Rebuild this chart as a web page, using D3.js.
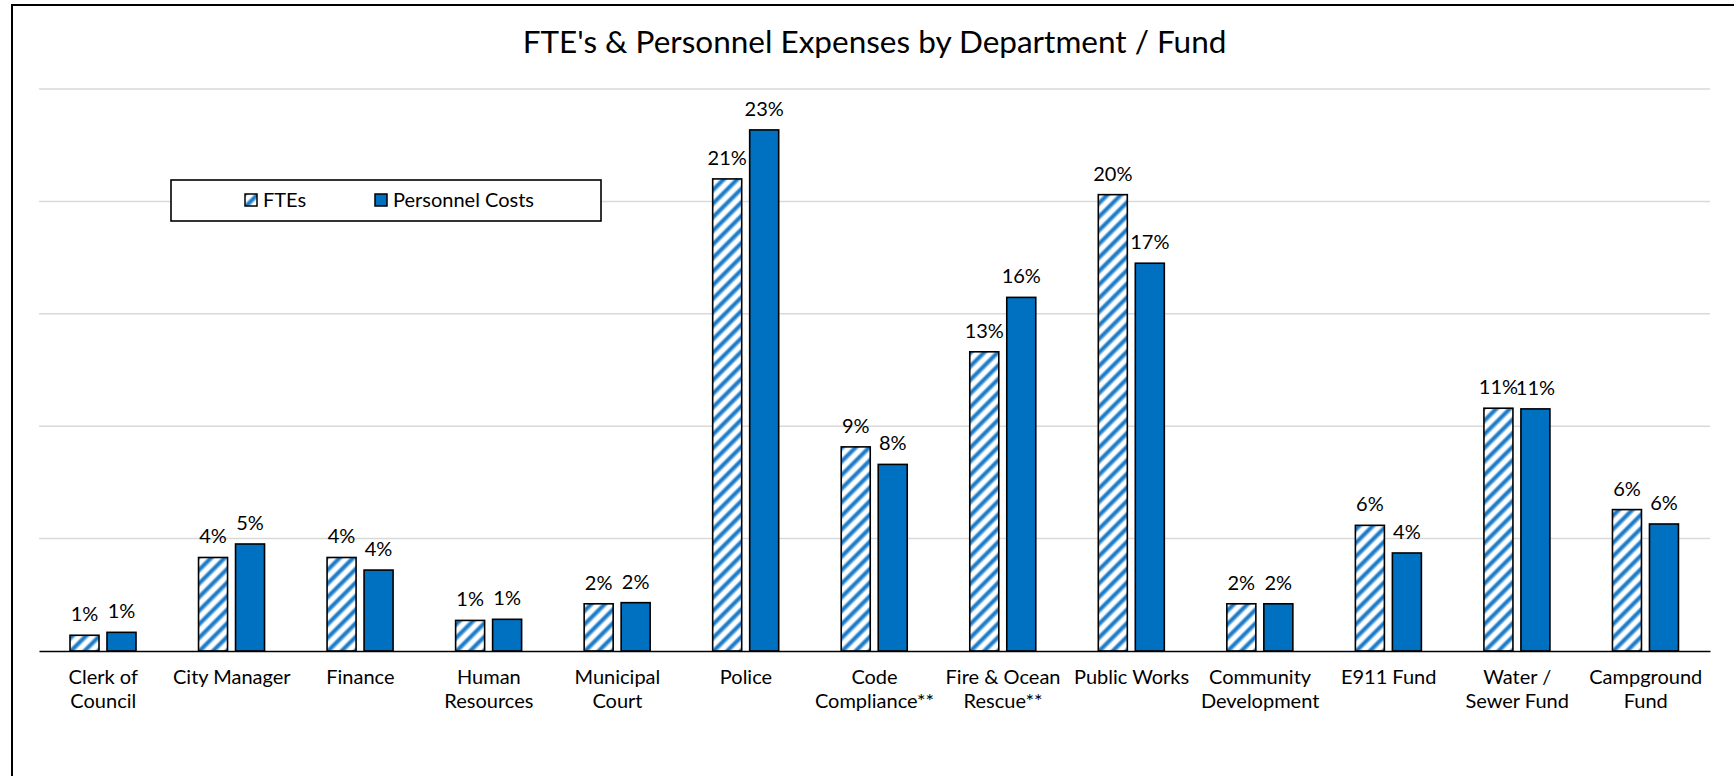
<!DOCTYPE html>
<html>
<head>
<meta charset="utf-8">
<script src="https://cdn.jsdelivr.net/npm/d3@7"></script>
<style>
  html, body { margin: 0; padding: 0; background: #fff; }
  svg { display: block; }
  text { font-family: Lato, "Open Sans", sans-serif; fill: #000; }
</style>
</head>
<body>
<svg id="chart" width="1734" height="776"></svg>
<script>
// ---- data ----
const categories = [
  "Clerk of\nCouncil", "City Manager", "Finance", "Human\nResources",
  "Municipal\nCourt", "Police", "Code\nCompliance**", "Fire & Ocean\nRescue**",
  "Public Works", "Community\nDevelopment", "E911 Fund", "Water /\nSewer Fund",
  "Campground\nFund"
];
const seriesNames = ["FTEs", "Personnel Costs"];
const ftes = [0.0070, 0.0416, 0.0416, 0.0136, 0.0210, 0.2100, 0.0908, 0.1331, 0.2030, 0.0210, 0.0559, 0.1080, 0.0629];
const personnelCosts = [0.0083, 0.0476, 0.0360, 0.0141, 0.0215, 0.2318, 0.0830, 0.1573, 0.1725, 0.0210, 0.0436, 0.1077, 0.0565];
const yTicks = [0, 0.05, 0.10, 0.15, 0.20, 0.25];
const title = "FTE's & Personnel Expenses by Department / Fund";

// ---- layout ----
const plot = { left: 39, right: 1710, top: 89, bottom: 651 };
const blue = "#0070C0";

const svg = d3.select("#chart");
const defs = svg.append("defs");
const pat = defs.append("pattern")
  .attr("id", "stripes")
  .attr("patternUnits", "userSpaceOnUse")
  .attr("width", 9.6).attr("height", 9.6)
  .attr("patternTransform", "rotate(45)");
pat.append("rect").attr("width", 9.6).attr("height", 9.6).attr("fill", "#fff");
pat.append("rect").attr("x", 0.4).attr("width", 1).attr("height", 9.6).attr("fill", "#8fc0e6");
pat.append("rect").attr("x", 1.2).attr("width", 3.4).attr("height", 9.6).attr("fill", "#1a7ac8");
pat.append("rect").attr("x", 4.6).attr("width", 1).attr("height", 9.6).attr("fill", "#8fc0e6");

// outer frame
svg.append("rect")
  .attr("x", 12).attr("y", 5).attr("width", 1740).attr("height", 800)
  .attr("fill", "#fff").attr("stroke", "#000").attr("stroke-width", 2);

const x0 = d3.scaleBand().domain(categories).range([plot.left, plot.right]).paddingInner(0).paddingOuter(0);
const x1 = d3.scaleBand().domain(seriesNames).range([31, 97]).paddingInner(0.216).paddingOuter(0);
const y = d3.scaleLinear().domain([0, 0.25]).range([plot.bottom, plot.top]);

// gridlines
svg.append("g").selectAll("line")
  .data(yTicks.filter(d => d > 0))
  .join("line")
  .attr("x1", plot.left).attr("x2", plot.right)
  .attr("y1", d => y(d)).attr("y2", d => y(d))
  .attr("stroke", "#d9d9d9").attr("stroke-width", 1.5);

// title
svg.append("text")
  .attr("x", 874.5).attr("y", 53)
  .attr("text-anchor", "middle")
  .style("font-size", "31.5px")
  .text(title);

// bars
const rows = categories.map((c, i) => ({ cat: c, vals: [ftes[i], personnelCosts[i]] }));
const fmt = d3.format(".0%");
const groups = svg.append("g").selectAll("g")
  .data(rows).join("g")
  .attr("transform", d => `translate(${x0(d.cat)},0)`);

groups.selectAll("rect")
  .data(d => d.vals.map((v, j) => ({ s: seriesNames[j], v })))
  .join("rect")
  .attr("x", d => x1(d.s))
  .attr("width", x1.bandwidth())
  .attr("y", d => y(d.v))
  .attr("height", d => y(0) - y(d.v))
  .attr("fill", d => d.s === "FTEs" ? "url(#stripes)" : blue)
  .attr("stroke", "#000").attr("stroke-width", 1.6);

groups.selectAll("text.val")
  .data(d => d.vals.map((v, j) => ({ s: seriesNames[j], v })))
  .join("text").attr("class", "val")
  .attr("x", d => x1(d.s) + x1.bandwidth() / 2)
  .attr("y", d => y(d.v) - 14)
  .attr("text-anchor", "middle")
  .style("font-size", "20px")
  .text(d => fmt(d.v));

// x axis
const xAxis = svg.append("g")
  .attr("transform", `translate(0,${plot.bottom})`)
  .call(d3.axisBottom(x0).tickSize(0).tickFormat(""));
xAxis.select(".domain").attr("stroke", "#000").attr("stroke-width", 1.6);
xAxis.selectAll(".tick").each(function(d) {
  const t = d3.select(this).append("text")
    .attr("text-anchor", "middle")
    .style("font-size", "20px")
    .style("font-family", "Lato, sans-serif")
    .attr("fill", "#000");
  d.split("\n").forEach((line, i) => {
    t.append("tspan").attr("x", 0).attr("y", 33 + i * 24).text(line);
  });
});

// legend
const lg = svg.append("g");
lg.append("rect").attr("x", 171).attr("y", 180).attr("width", 430).attr("height", 41)
  .attr("fill", "#fff").attr("stroke", "#000").attr("stroke-width", 1.6);
const legendPos = [{ sx: 245, tx: 263 }, { sx: 375, tx: 393 }];
seriesNames.forEach((s, i) => {
  lg.append("rect").attr("x", legendPos[i].sx).attr("y", 194).attr("width", 12).attr("height", 12)
    .attr("fill", s === "FTEs" ? "url(#stripes)" : blue)
    .attr("stroke", "#000").attr("stroke-width", 1.5);
  lg.append("text").attr("x", legendPos[i].tx).attr("y", 206.5)
    .style("font-size", "20px").text(s);
});
</script>
</body>
</html>
